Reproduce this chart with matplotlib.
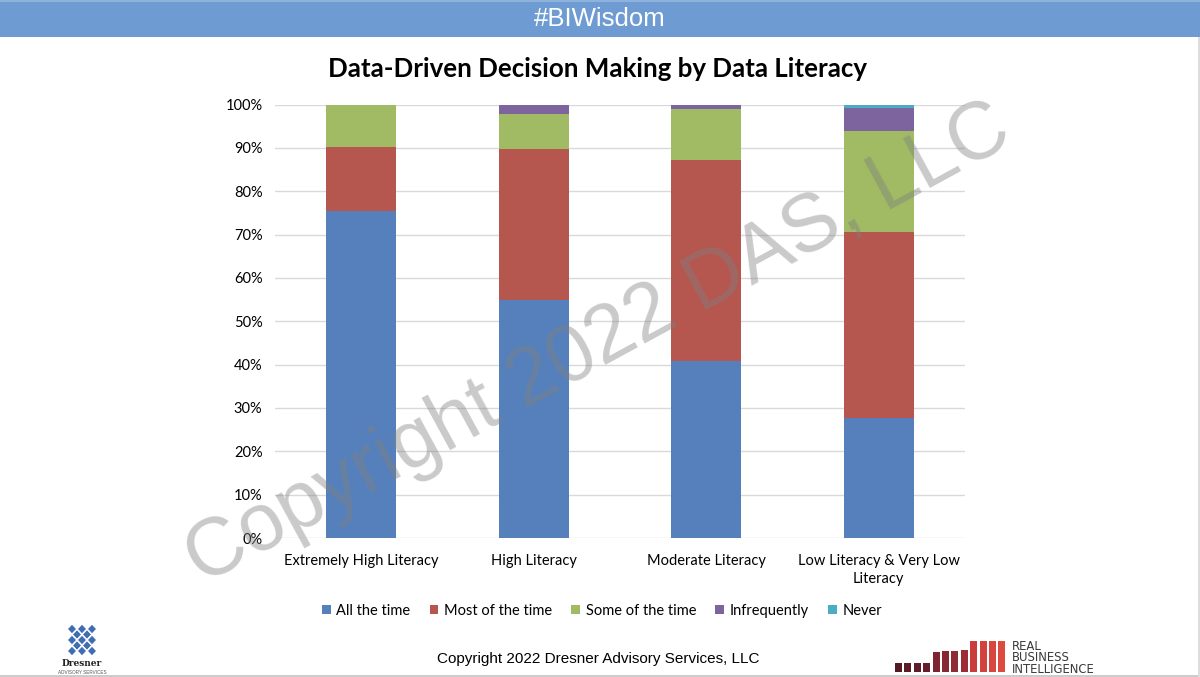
import matplotlib
matplotlib.use("Agg")
import matplotlib.pyplot as plt
from matplotlib.patches import Rectangle, Polygon
import numpy as np

# data (percent of respondents)
categories = ["Extremely High Literacy", "High Literacy", "Moderate Literacy",
              "Low Literacy & Very Low\nLiteracy"]
series = ["All the time", "Most of the time", "Some of the time", "Infrequently", "Never"]
all_the_time = [75.4, 54.8, 40.9, 27.6]
most_of_time = [14.8, 35.0, 46.4, 43.1]
some_of_time = [9.8, 8.1, 11.7, 23.3]
infrequently = [0.0, 2.1, 1.0, 5.1]
never = [0.0, 0.0, 0.0, 0.9]
yticks = [0, 10, 20, 30, 40, 50, 60, 70, 80, 90, 100]

colors = ["#5680bb", "#b5564f", "#a0bb64", "#7e649f", "#4bacc6"]

W, H = 1200, 677
fig = plt.figure(figsize=(12, 6.77), dpi=100)
fig.patch.set_facecolor("white")


def fx(px):
    return px / W


def fy(py):
    return 1 - py / H


# header band
fig.add_artist(Rectangle((0, fy(37)), 1, 37 / H, transform=fig.transFigure,
                         facecolor="#6e9bd1", edgecolor="none"))
fig.add_artist(Rectangle((0, fy(2)), 1, 2 / H, transform=fig.transFigure,
                         facecolor="#8fb2dc", edgecolor="none"))
fig.text(0.5, fy(19), "#BIWisdom", color="white", fontsize=18.5,
         family="Liberation Sans", ha="center", va="center")

# title
fig.text(fx(598), fy(69), "Data-Driven Decision Making by Data Literacy",
         fontsize=18.6, fontweight="bold", family="Lato", ha="center", va="center")

ax = fig.add_axes([fx(275), fy(538), fx(965) - fx(275), fy(104.5) - fy(538)])
x = np.arange(len(categories))
bottom = np.zeros(len(categories))
for name, vals, c in zip(series, [all_the_time, most_of_time, some_of_time, infrequently, never], colors):
    ax.bar(x, vals, width=0.405, bottom=bottom, color=c, label=name, zorder=2)
    bottom += np.array(vals)

ax.set_xlim(-0.5, 3.5)
ax.set_ylim(0, 100)
ax.set_yticks(yticks)
ax.set_yticklabels([f"{t}%" for t in yticks], family="Lato", fontsize=10.5)
ax.set_xticks(x)
ax.set_xticklabels(categories, family="Lato", fontsize=10.5, linespacing=1.4)
ax.tick_params(axis="y", length=0, pad=9)
ax.tick_params(axis="x", length=0, pad=11.5)
ax.grid(axis="y", color="#d9d9d9", linewidth=1, zorder=0)
for s in ax.spines.values():
    s.set_visible(False)

leg = fig.legend(loc="center", bbox_to_anchor=(fx(602), fy(611)), ncol=5, frameon=False,
                 prop={"family": "Lato", "size": 10.5}, handlelength=0.6, handleheight=0.6,
                 columnspacing=1.3, handletextpad=0.4)

# watermark
fig.text(fx(598), fy(345), "Copyright 2022 DAS, LLC", fontsize=58, rotation=28.6,
         family="Liberation Sans", color="gray", alpha=0.42, ha="center", va="center",
         rotation_mode="anchor", zorder=10)

# footer
fig.text(fx(598), fy(659), "Copyright 2022 Dresner Advisory Services, LLC", fontsize=11,
         family="Liberation Sans", ha="center", va="center")
fig.add_artist(Rectangle((0, 0), 1, 2 / H, transform=fig.transFigure,
                         facecolor="#cccccc", edgecolor="none"))
fig.add_artist(Rectangle((1 - 2 / W, 0), 2 / W, fy(37), transform=fig.transFigure,
                         facecolor="#dddddd", edgecolor="none"))

# Dresner logo (knot of diamonds)
cx, cy, s = 82, 640, 5.0
for i in range(-2, 3):
    for j in range(-2, 3):
        if abs(i) + abs(j) > 2 and not (abs(i) == 1 and abs(j) == 1):
            continue
        px = cx + (i - j) * s
        py = cy + (i + j) * s * 1.1
        pts = [(fx(px), fy(py - s * 1.0)), (fx(px + s * 0.95), fy(py)),
               (fx(px), fy(py + s * 1.0)), (fx(px - s * 0.95), fy(py))]
        fig.add_artist(Polygon(pts, closed=True, transform=fig.transFigure,
                               facecolor="#3e6db5", edgecolor="white", linewidth=0.8))
fig.text(fx(82), fy(664), "Dresner", fontsize=6.5, fontweight="bold", family="DejaVu Serif",
         ha="center", va="center", color="#222222")
fig.text(fx(82), fy(672), "ADVISORY SERVICES", fontsize=3.3, family="Liberation Sans",
         ha="center", va="center", color="#555555")

# RBI logo
bar_h = [9, 9, 9, 9, 20, 21, 21, 22, 31, 31, 31, 31]
bar_c = ["#561a26", "#5b1b27", "#601c29", "#661e2b", "#7e2430", "#872732", "#902a34",
         "#9a2d36", "#c93e3d", "#d2423e", "#d9463f", "#df4a40"]
for k, (h, c) in enumerate(zip(bar_h, bar_c)):
    x0 = 895 + k * 9.4
    fig.add_artist(Rectangle((fx(x0), fy(672)), 7 / W, h / H, transform=fig.transFigure,
                             facecolor=c, edgecolor="none"))
for k, word in enumerate(["REAL", "BUSINESS", "INTELLIGENCE"]):
    fig.text(fx(1012), fy(646 + k * 11.8), word, fontsize=8.4, family="DejaVu Sans",
             ha="left", va="center", color="#3a3a3a")

fig.savefig("out.png", dpi=100)
